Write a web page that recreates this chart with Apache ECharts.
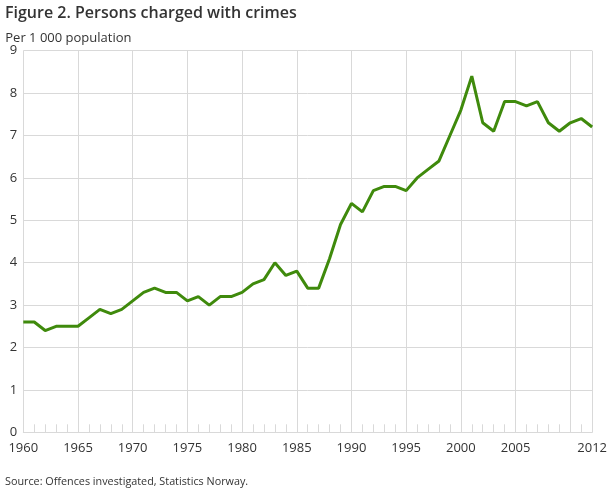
<!DOCTYPE html>
<html><head><meta charset="utf-8">
<script src="https://cdn.jsdelivr.net/npm/echarts@6/dist/echarts.min.js"></script>
<style>html,body{margin:0;padding:0;background:#fff}#c{width:610px;height:488px}</style>
</head><body><div id="c"></div>
<script>
var years = [];
for (var y = 1960; y <= 2012; y++) years.push(String(y));
var values = [2.6,2.6,2.4,2.5,2.5,2.5,2.7,2.9,2.8,2.9,
  3.1,3.3,3.4,3.3,3.3,3.1,3.2,3.0,3.2,3.2,
  3.3,3.5,3.6,4.0,3.7,3.8,3.4,3.4,4.1,4.9,
  5.4,5.2,5.7,5.8,5.8,5.7,6.0,6.2,6.4,7.0,
  7.6,8.4,7.3,7.1,7.8,7.8,7.7,7.8,7.3,7.1,
  7.3,7.4,7.2];
var xLabelYears = ['1960','1965','1970','1975','1980','1985','1990','1995','2000','2005','2012'];
var xGridYears = ['1960','1965','1970','1975','1980','1985','1990','1995','2000','2005','2010','2012'];
var yTicks = [0,9,1];
var title = 'Figure 2. Persons charged with crimes';
var yName = 'Per 1 000 population';
var source = 'Source: Offences investigated, Statistics Norway.';
var font = '"Open Sans", sans-serif';
var chart = echarts.init(document.getElementById('c'));
chart.setOption({
  animation: false,
  textStyle: {fontFamily: font},
  title: [
    {text: title, left: 0, top: 0, textStyle: {fontFamily: font, fontSize: 16, fontWeight: 600, color: '#333'}},
    {text: source, left: 0, top: 471, textStyle: {fontFamily: font, fontSize: 10.8, fontWeight: 'normal', color: '#333'}}
  ],
  grid: {left: 23.3, right: 14.7, top: 50.7, bottom: 55.7, containLabel: false},
  xAxis: {
    type: 'category', data: years, boundaryGap: false,
    axisLine: {show: true, lineStyle: {color: '#d9d9d9', width: 1}},
    axisTick: {show: true, inside: true, length: 8, interval: 0, lineStyle: {color: '#d9d9d9'}},
    axisLabel: {interval: function(i, v){ return xLabelYears.indexOf(v) >= 0; }, color: '#333', fontSize: 13, margin: 9, fontFamily: font},
    splitLine: {show: true, interval: function(i, v){ return xGridYears.indexOf(v) >= 0; }, lineStyle: {color: '#d9d9d9', width: 1}}
  },
  yAxis: {
    type: 'value', min: yTicks[0], max: yTicks[1], interval: yTicks[2],
    name: yName, nameLocation: 'end', nameGap: 6,
    nameTextStyle: {align: 'left', padding: [0,0,0,-18], color: '#333', fontSize: 13, fontFamily: font},
    axisLine: {show: false}, axisTick: {show: false},
    axisLabel: {color: '#333', fontSize: 13, margin: 6, fontFamily: font},
    splitLine: {show: true, lineStyle: {color: '#d9d9d9', width: 1}}
  },
  series: [{
    type: 'line', data: values, showSymbol: false, symbol: 'none',
    lineStyle: {color: '#3f8a0c', width: 3}, itemStyle: {color: '#3f8a0c'}
  }]
});
</script></body></html>
